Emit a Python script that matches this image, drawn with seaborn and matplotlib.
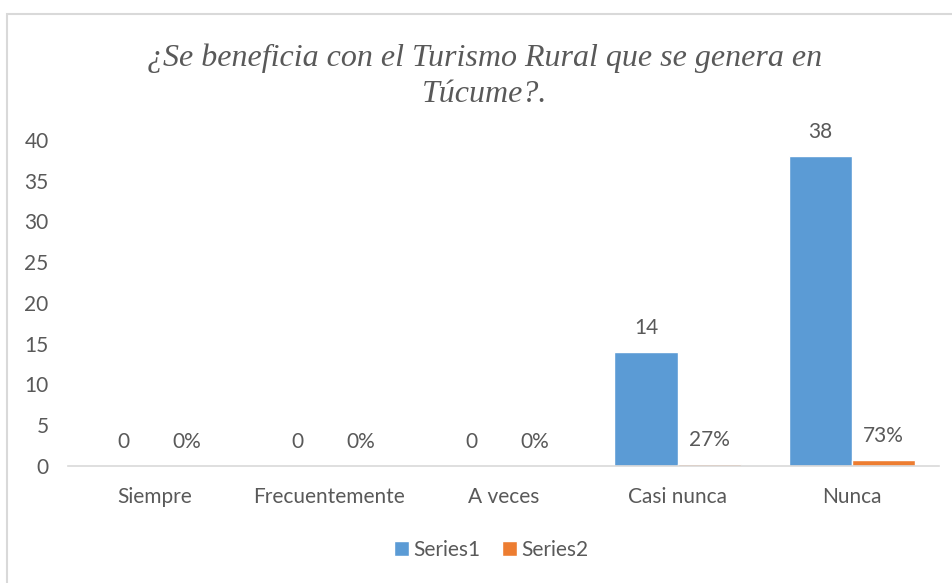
import matplotlib.pyplot as plt
import seaborn as sns
import pandas as pd
from matplotlib.patches import Rectangle

categorias = ['Siempre', 'Frecuentemente', 'A veces', 'Casi nunca', 'Nunca']
series1 = [0, 0, 0, 14, 38]
series2 = [0.0, 0.0, 0.0, 0.27, 0.73]
yticks = [0, 5, 10, 15, 20, 25, 30, 35, 40]

df = pd.DataFrame({
    'Categoria': categorias * 2,
    'Valor': series1 + series2,
    'Serie': ['Series1'] * 5 + ['Series2'] * 5,
})

sns.set_style("white")
plt.rcParams['font.family'] = ['Lato', 'DejaVu Sans']
gris = '#595959'
fs = 15

fig = plt.figure(figsize=(9.53, 5.83), dpi=100)
ax = fig.add_axes([0.0714, 0.2007, 0.9136, 0.5592])

sns.barplot(data=df, x='Categoria', y='Valor', hue='Serie', order=categorias,
            palette=['#5B9BD5', '#ED7D31'], width=0.724, saturation=1, ax=ax)

ax.set_ylim(0, 40)
ax.set_yticks(yticks)
ax.set_xlim(-0.5, 4.5)
ax.set_xlabel('')
ax.set_ylabel('')
ax.tick_params(axis='both', length=0, labelsize=fs, colors=gris)
ax.tick_params(axis='x', pad=15)
ax.tick_params(axis='y', pad=14)
sns.despine(ax=ax, left=True, top=True, right=True)
ax.spines['bottom'].set_color('#D9D9D9')
ax.spines['bottom'].set_linewidth(1.2)

# Etiquetas de datos
ax.bar_label(ax.containers[0], labels=[str(v) for v in series1], padding=10,
             fontsize=fs, color=gris)
ax.bar_label(ax.containers[1], labels=['{:.0%}'.format(v) for v in series2], padding=10,
             fontsize=fs, color=gris)

# Leyenda
handles, labels = ax.get_legend_handles_labels()
ax.legend(handles, labels, loc='center', bbox_to_anchor=(0.486, -0.258), ncol=2,
          frameon=False, handlelength=0.75, handleheight=0.75, handletextpad=0.2,
          columnspacing=1.0, fontsize=fs, labelcolor=gris)

# Titulo
fig.text(0.508, 0.869, '¿Se beneficia con el Turismo Rural que se genera en\nTúcume?.',
         ha='center', va='center', fontsize=23, style='italic', color=gris,
         family=['Liberation Serif', 'DejaVu Serif'], linespacing=1.3)

# Borde del grafico
fig.patches.append(Rectangle((7 / 953, -0.01), 1.0, 1 - 14 / 583 + 0.01,
                             transform=fig.transFigure, fill=False,
                             edgecolor='#D9D9D9', linewidth=1.5))

fig.savefig('out.png', dpi=100)
